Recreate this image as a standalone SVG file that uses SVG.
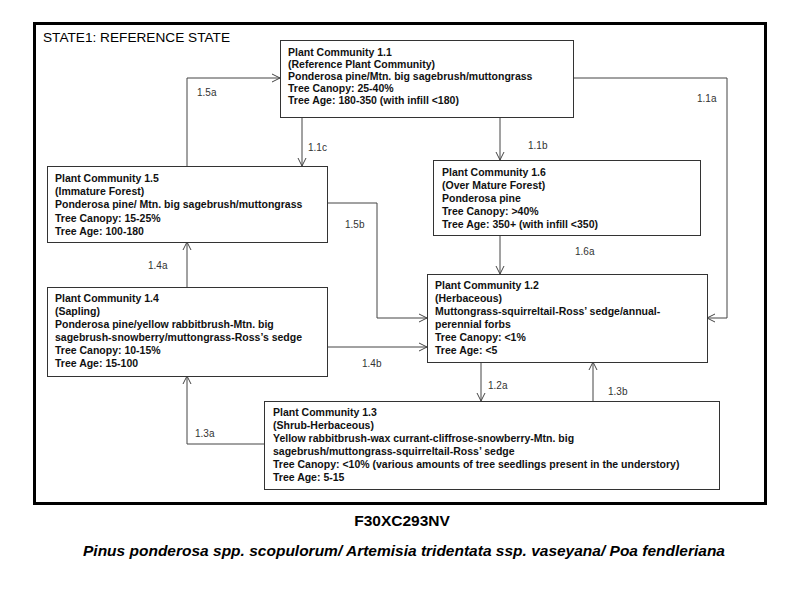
<svg xmlns="http://www.w3.org/2000/svg" width="800" height="600" viewBox="0 0 800 600">
<style>
.box{fill:#fff;stroke:#333;stroke-width:1}
.t{font-family:"Liberation Sans",Arial,sans-serif;font-weight:bold;font-size:10.5px;fill:#111}
.lbl{font-family:"Liberation Sans",Arial,sans-serif;font-size:10px;fill:#333}
.c{fill:none;stroke:#444;stroke-width:1;marker-end:url(#ah)}
</style>
<defs>
<marker id="ah" viewBox="0 0 10 10" refX="9" refY="5" markerWidth="10" markerHeight="10" markerUnits="userSpaceOnUse" orient="auto">
<path d="M1,1 L9,5 L1,9" fill="none" stroke="#444" stroke-width="1"/>
</marker>
</defs>
<rect width="800" height="600" fill="#fff"/>
<rect x="34.5" y="23.5" width="731" height="480" fill="none" stroke="#000" stroke-width="3"/>
<text x="43" y="42" font-family="Liberation Sans,Arial,sans-serif" font-size="13" fill="#000" textLength="187" lengthAdjust="spacingAndGlyphs">STATE1: REFERENCE STATE</text>

<g id="connectors">
<path class="c" d="M187,166 V78 H280"/>
<path class="c" d="M302,117 V166"/>
<path class="c" d="M500,117 V160"/>
<path class="c" d="M573,78 H727 V318 H707"/>
<path class="c" d="M327,203 H377 V318 H427"/>
<path class="c" d="M327,347 H427"/>
<path class="c" d="M187,287 V242"/>
<path class="c" d="M500,235 V274"/>
<path class="c" d="M481,362 V401"/>
<path class="c" d="M593,401 V362"/>
<path class="c" d="M264,444 H187 V376"/>
<text class="lbl" x="197" y="96">1.5a</text>
<text class="lbl" x="308" y="151">1.1c</text>
<text class="lbl" x="528" y="149">1.1b</text>
<text class="lbl" x="697" y="102">1.1a</text>
<text class="lbl" x="345" y="228">1.5b</text>
<text class="lbl" x="148" y="269">1.4a</text>
<text class="lbl" x="575" y="255">1.6a</text>
<text class="lbl" x="362" y="367">1.4b</text>
<text class="lbl" x="488" y="389">1.2a</text>
<text class="lbl" x="608" y="395">1.3b</text>
<text class="lbl" x="195" y="437">1.3a</text>
</g>

<g id="pc11">
<rect class="box" x="280.5" y="40.5" width="293" height="77"/>
<text class="t" x="288" y="56">Plant Community 1.1</text>
<text class="t" x="288" y="68">(Reference Plant Community)</text>
<text class="t" x="288" y="80">Ponderosa pine/Mtn. big sagebrush/muttongrass</text>
<text class="t" x="288" y="92">Tree Canopy: 25-40%</text>
<text class="t" x="288" y="104">Tree Age: 180-350 (with infill &lt;180)</text>
</g>

<g id="pc15">
<rect class="box" x="47.5" y="166.5" width="280" height="76"/>
<text class="t" x="55" y="182">Plant Community 1.5</text>
<text class="t" x="55" y="195">(Immature Forest)</text>
<text class="t" x="55" y="208">Ponderosa pine/ Mtn. big sagebrush/muttongrass</text>
<text class="t" x="55" y="222">Tree Canopy: 15-25%</text>
<text class="t" x="55" y="235">Tree Age: 100-180</text>
</g>

<g id="pc16">
<rect class="box" x="433.5" y="160.5" width="267" height="75"/>
<text class="t" x="442" y="176">Plant Community 1.6</text>
<text class="t" x="442" y="189">(Over Mature Forest)</text>
<text class="t" x="442" y="202">Ponderosa pine</text>
<text class="t" x="442" y="215">Tree Canopy: &gt;40%</text>
<text class="t" x="442" y="228">Tree Age: 350+ (with infill &lt;350)</text>
</g>

<g id="pc12">
<rect class="box" x="427.5" y="274.5" width="280" height="88"/>
<text class="t" x="435" y="289">Plant Community 1.2</text>
<text class="t" x="435" y="302">(Herbaceous)</text>
<text class="t" x="435" y="315">Muttongrass-squirreltail-Ross’ sedge/annual-</text>
<text class="t" x="435" y="328">perennial forbs</text>
<text class="t" x="435" y="341">Tree Canopy: &lt;1%</text>
<text class="t" x="435" y="354">Tree Age: &lt;5</text>
</g>

<g id="pc14">
<rect class="box" x="47.5" y="287.5" width="280" height="89"/>
<text class="t" x="55" y="302">Plant Community 1.4</text>
<text class="t" x="55" y="315">(Sapling)</text>
<text class="t" x="55" y="328">Ponderosa pine/yellow rabbitbrush-Mtn. big</text>
<text class="t" x="55" y="341">sagebrush-snowberry/muttongrass-Ross’s sedge</text>
<text class="t" x="55" y="354">Tree Canopy: 10-15%</text>
<text class="t" x="55" y="367">Tree Age: 15-100</text>
</g>

<g id="pc13">
<rect class="box" x="264.5" y="401.5" width="455" height="88"/>
<text class="t" x="273" y="416">Plant Community 1.3</text>
<text class="t" x="273" y="429">(Shrub-Herbaceous)</text>
<text class="t" x="273" y="442">Yellow rabbitbrush-wax currant-cliffrose-snowberry-Mtn. big</text>
<text class="t" x="273" y="455">sagebrush/muttongrass-squirreltail-Ross’ sedge</text>
<text class="t" x="273" y="468">Tree Canopy: &lt;10% (various amounts of tree seedlings present in the understory)</text>
<text class="t" x="273" y="481">Tree Age: 5-15</text>
</g>

<text x="402" y="526" text-anchor="middle" font-family="Liberation Sans,Arial,sans-serif" font-weight="bold" font-size="15.5" fill="#000">F30XC293NV</text>
<text x="404" y="556" text-anchor="middle" font-family="Liberation Sans,Arial,sans-serif" font-weight="bold" font-style="italic" font-size="15.5" fill="#000">Pinus ponderosa spp. scopulorum/ Artemisia tridentata ssp. vaseyana/ Poa fendleriana</text>
</svg>
